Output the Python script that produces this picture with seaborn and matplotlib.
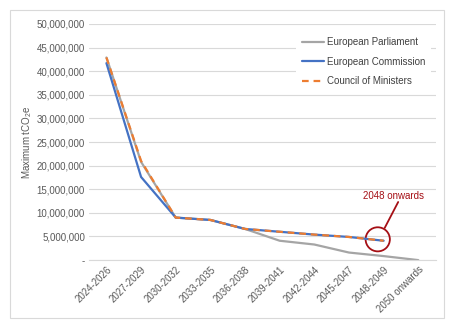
import matplotlib
matplotlib.use("Agg")
import matplotlib.pyplot as plt
import matplotlib.patches as mpatches
import seaborn as sns
import pandas as pd
import numpy as np
from matplotlib.ticker import FuncFormatter

categories = ["2024-2026", "2027-2029", "2030-2032", "2033-2035", "2036-2038",
              "2039-2041", "2042-2044", "2045-2047", "2048-2049", "2050 onwards"]
parliament = [42.9e6, 20.8e6, 9.0e6, 8.5e6, 6.6e6, 4.1e6, 3.3e6, 1.6e6, 0.85e6, 0.0]
commission = [41.7e6, 17.6e6, 9.0e6, 8.5e6, 6.6e6, 6.0e6, 5.4e6, 4.9e6, 4.1e6, np.nan]
council = [42.9e6, 21.0e6, 9.0e6, 8.5e6, 6.6e6, 6.0e6, 5.4e6, 4.9e6, 4.1e6, np.nan]

sns.set_theme(style="white")
plt.rcParams['font.family'] = ['Liberation Sans', 'DejaVu Sans']
plt.rcParams['mathtext.fontset'] = 'custom'
plt.rcParams['mathtext.rm'] = 'Liberation Sans'
plt.rcParams['mathtext.it'] = 'Liberation Sans'

fig = plt.figure(figsize=(4.5, 3.28), dpi=100)
ax = fig.add_axes([0.198, 0.207, 0.77, 0.72])

# chart border
fig.patches.append(mpatches.Rectangle((0.022, 0.03), 0.964, 0.939, transform=fig.transFigure,
                                      fill=False, edgecolor="#D9D9D9", linewidth=0.8))

x = np.arange(len(categories))
df = pd.DataFrame({"x": x, "European Parliament": parliament,
                   "European Commission": commission, "Council of Ministers": council})

sns.lineplot(data=df, x="x", y="European Parliament", ax=ax, color="#A5A5A5", linewidth=1.6,
             label="European Parliament")
sns.lineplot(data=df, x="x", y="European Commission", ax=ax, color="#4472C4", linewidth=1.6,
             label="European Commission")
sns.lineplot(data=df, x="x", y="Council of Ministers", ax=ax, color="#ED7D31", linewidth=1.6,
             linestyle=(0, (3, 2.2)), label="Council of Ministers")

ax.set_ylim(0, 50e6)
ax.set_yticks(np.arange(0, 50e6 + 1, 5e6))
ax.yaxis.set_major_formatter(FuncFormatter(lambda v, p: "-" if v == 0 else f"{int(v):,}"))
ax.set_xlim(-0.5, len(categories) - 0.5)
ax.set_xticks(x)
ax.set_xticklabels(categories, rotation=45, ha="right", rotation_mode="anchor")
ax.tick_params(axis="both", labelsize=7, colors="#595959", length=0, pad=3)
ax.grid(axis="y", color="#D9D9D9", linewidth=0.8)
ax.set_axisbelow(True)
for s in ["top", "right", "left"]:
    ax.spines[s].set_visible(False)
ax.spines["bottom"].set_color("#D9D9D9")
ax.spines["bottom"].set_linewidth(0.8)
ax.set_xlabel("")
ax.set_ylabel("Maximum tCO$_2$e", fontsize=7, color="#595959", labelpad=2)

leg = ax.legend(loc="upper right", bbox_to_anchor=(1.0, 0.99), frameon=True, fontsize=7,
                handlelength=2.2, handletextpad=0.3, labelspacing=1.0, borderpad=0.6)
leg.get_frame().set_edgecolor("none")
leg.get_frame().set_facecolor("white")
leg.get_frame().set_alpha(1.0)
for t in leg.get_texts():
    t.set_color("#404040")

# annotation circle around 2048-2049 endpoint
red = "#A50F15"
circ = mpatches.Ellipse((7.83, 4.4e6), 0.7, 5.1e6, fill=False, edgecolor=red, linewidth=1.3)
ax.add_patch(circ)
ax.plot([8.03, 8.42], [6.8e6, 12.3e6], color=red, linewidth=1.3, clip_on=False)
ax.text(8.28, 12.6e6, "2048 onwards", fontsize=7, color=red, ha="center", va="bottom")

fig.savefig("out.png", dpi=100)
